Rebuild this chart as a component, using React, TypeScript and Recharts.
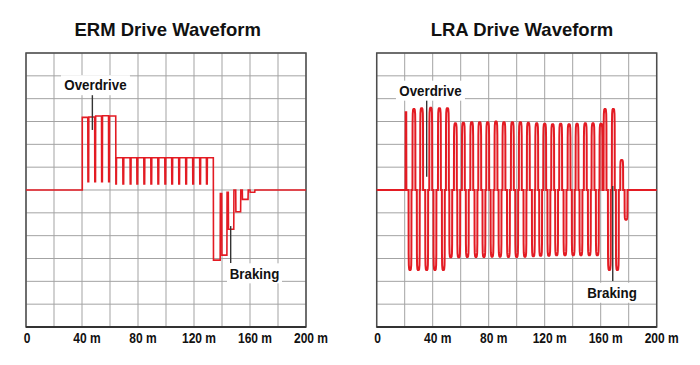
import React from 'react';
import {
  LineChart,
  Line,
  XAxis,
  YAxis,
  CartesianGrid,
  ReferenceArea,
  ReferenceLine,
  ReferenceDot,
} from 'recharts';

// ---------- shared axis data ----------
const gridTimes = [0, 20, 40, 60, 80, 100, 120, 140, 160, 180, 200];
const labelTimes = [0, 40, 80, 120, 160, 200];
const labelTexts = ['0', '40 m', '80 m', '120 m', '160 m', '200 m'];
const levelTicks = [-6, -5, -4, -3, -2, -1, 0, 1, 2, 3, 4, 5, 6];

// ---------- ERM waveform ----------
const ermOverdriveStart = 40.2;
const ermOverdriveLevels = [3.18, 3.2, 3.24, 3.25, 3.24];
const ermOverdriveDips = [44.5, 49.4, 54.3, 59.3];
const ermOverdriveDipFloor = 0.36;
const ermOverdriveEnd = 64.1;
const ermSustainLevel = 1.41;
const ermSustainDips = [69.5, 74.7, 79.5, 84.5, 89.5, 94.5, 99.5, 104.4, 109.4, 114.4, 119.4, 124.4, 129.2];
const ermSustainDipFloor = 0.27;
const ermBrakeStarts = [133.8, 139.8, 144.5, 149.8, 154.5, 160.0];
const ermBrakeEnds = [138.7, 143.5, 148.4, 153.3, 158.6, 163.4];
const ermBrakeLevels = [-3.07, -2.85, -1.72, -0.95, -0.41, -0.1];
const ermBrakeRebounds = [-0.15, -0.1, 0, 0, 0, 0];

// ---------- LRA waveform ----------
const lraOnsetTime = 20.9;
const lraOnsetPeak = 3.4;
const lraPositiveTimes = [26.6, 32.1, 38.6, 44.8, 50.5, 56.2, 61.9, 67.9, 73.6, 79.3, 85.2, 90.9, 96.9, 102.6, 108.3, 114.3, 120.0, 125.7, 131.4, 137.4, 143.1, 149.0, 154.5, 160.2, 163.1, 169.0, 175.0];
const lraPositivePeaks = [3.55, 3.58, 3.6, 3.58, 3.58, 2.92, 2.95, 2.97, 2.97, 2.97, 3.0, 2.97, 2.97, 2.97, 2.94, 2.92, 2.9, 2.88, 2.9, 2.88, 2.9, 2.92, 2.92, 2.9, 3.55, 3.55, 1.31];
const lraNegativeTimes = [23.8, 29.7, 35.7, 41.6, 47.6, 52.9, 58.6, 64.7, 70.9, 76.6, 82.4, 88.1, 94.1, 100.0, 105.9, 111.9, 117.1, 123.0, 128.5, 134.5, 140.4, 145.9, 151.9, 157.6, 166.2, 171.9, 178.1];
const lraNegativeTroughs = [-3.5, -3.5, -3.5, -3.5, -3.5, -2.95, -2.95, -2.93, -2.93, -2.93, -2.92, -2.92, -2.93, -2.93, -2.92, -2.9, -2.88, -2.88, -2.86, -2.86, -2.86, -2.86, -2.86, -2.86, -3.5, -3.5, -1.3];

// pulse outline (time offset in ms, fraction of peak) - drawing shape only
const pulseOutline: [number, number][] = [
  [-1.05, 0], [-0.98, 0.8], [-0.85, 0.94], [-0.6, 0.99], [-0.3, 1],
  [0.3, 1], [0.6, 0.99], [0.85, 0.94], [0.98, 0.8], [1.05, 0],
];

type Pt = { t: number; v: number };

function buildErm(): Pt[] {
  const p: Pt[] = [];
  p.push({ t: 0, v: 0 }, { t: ermOverdriveStart, v: 0 }, { t: ermOverdriveStart, v: ermOverdriveLevels[0] });
  ermOverdriveDips.forEach((d, i) => {
    p.push({ t: d - 0.35, v: ermOverdriveLevels[i] });
    p.push({ t: d - 0.25, v: ermOverdriveDipFloor });
    p.push({ t: d + 0.25, v: ermOverdriveDipFloor });
    p.push({ t: d + 0.35, v: ermOverdriveLevels[i + 1] });
  });
  const last = ermOverdriveLevels[ermOverdriveLevels.length - 1];
  p.push({ t: ermOverdriveEnd, v: last });
  p.push({ t: ermOverdriveEnd + 0.1, v: ermSustainDipFloor });
  p.push({ t: ermOverdriveEnd + 0.45, v: ermSustainDipFloor });
  p.push({ t: ermOverdriveEnd + 0.55, v: ermSustainLevel });
  ermSustainDips.forEach((d) => {
    p.push({ t: d - 0.35, v: ermSustainLevel });
    p.push({ t: d - 0.25, v: ermSustainDipFloor });
    p.push({ t: d + 0.25, v: ermSustainDipFloor });
    p.push({ t: d + 0.35, v: ermSustainLevel });
  });
  let prev = ermSustainLevel;
  ermBrakeStarts.forEach((s, i) => {
    p.push({ t: s, v: prev });
    p.push({ t: s + 0.12, v: ermBrakeLevels[i] });
    p.push({ t: ermBrakeEnds[i], v: ermBrakeLevels[i] });
    p.push({ t: ermBrakeEnds[i] + 0.12, v: ermBrakeRebounds[i] });
    prev = ermBrakeRebounds[i];
  });
  p.push({ t: 200, v: 0 });
  return p;
}

function buildLra(): Pt[] {
  const pulses: { t: number; a: number }[] = [];
  lraPositiveTimes.forEach((t, i) => pulses.push({ t, a: lraPositivePeaks[i] }));
  lraNegativeTimes.forEach((t, i) => pulses.push({ t, a: lraNegativeTroughs[i] }));
  pulses.sort((a, b) => a.t - b.t);
  const p: Pt[] = [];
  p.push({ t: 0, v: 0 });
  p.push({ t: lraOnsetTime - 0.3, v: 0 });
  p.push({ t: lraOnsetTime - 0.2, v: lraOnsetPeak });
  p.push({ t: lraOnsetTime + 0.2, v: lraOnsetPeak });
  p.push({ t: lraOnsetTime + 0.3, v: 0 });
  pulses.forEach(({ t, a }) => {
    pulseOutline.forEach(([dt, f]) => p.push({ t: t + dt, v: a * f }));
  });
  p.push({ t: 200, v: 0 });
  return p;
}

const ermPoints = buildErm();
const lraPoints = buildLra();

const labelFont = "'Liberation Sans', Arial, Helvetica, sans-serif";

const TimeTick = (props: any) => {
  const { x, y, payload } = props;
  const idx = labelTimes.indexOf(payload.value);
  if (idx < 0) return <g />;
  const dx = payload.value === 0 ? 1 : 5;
  return (
    <g transform={`translate(${x + dx},${y + 16}) scale(0.86,1)`}>
      <text x={0} y={0} textAnchor="middle" fontFamily={labelFont} fontWeight={700} fontSize={14} fill="#111">
        {labelTexts[idx]}
      </text>
    </g>
  );
};

const makeNote = (text: string) => (props: any) => {
  const { cx, cy } = props;
  const w = text.length * 7 + 6;
  return (
    <g>
      <rect x={cx - w / 2} y={cy - 10} width={w} height={20} fill="#fff" />
      <g transform={`translate(${cx},${cy + 5.3}) scale(0.89,1)`}>
        <text x={0} y={0} textAnchor="middle" fontFamily={labelFont} fontWeight={700} fontSize={15} fill="#111">
          {text}
        </text>
      </g>
    </g>
  );
};

type Note = { text: string; x: number; y: number; lineX: number; lineY1: number; lineY2: number };

const ermNotes: Note[] = [
  { text: 'Overdrive', x: 49.6, y: 4.59, lineX: 47.4, lineY1: 4.28, lineY2: 2.63 },
  { text: 'Braking', x: 163.2, y: -3.65, lineX: 146.2, lineY1: -1.58, lineY2: -3.2 },
];
const lraNotes: Note[] = [
  { text: 'Overdrive', x: 38.4, y: 4.35, lineX: 35.7, lineY1: 4.07, lineY2: 0.58 },
  { text: 'Braking', x: 168.1, y: -4.5, lineX: 168.6, lineY1: 0.18, lineY2: -3.99 },
];

function Panel({ data, notes, marginLeft, strokeWidth }: { data: Pt[]; notes: Note[]; marginLeft: number; strokeWidth: number }) {
  return (
    <LineChart
      width={350}
      height={365}
      data={data}
      margin={{ top: 53, right: 70 - marginLeft, bottom: 8, left: marginLeft }}
    >
      <CartesianGrid
        stroke="#a3a3a3"
        strokeWidth={1}
        horizontalValues={levelTicks}
        verticalValues={gridTimes}
      />
      <XAxis
        dataKey="t"
        type="number"
        domain={[0, 200]}
        ticks={gridTimes}
        interval={0}
        tickLine={false}
        tickSize={0}
        tickMargin={0}
        height={30}
        axisLine={{ stroke: '#333', strokeWidth: 2 }}
        tick={<TimeTick />}
      />
      <YAxis type="number" domain={[-6, 6]} ticks={levelTicks} interval={0} hide />
      <ReferenceArea x1={0} x2={200} y1={-6} y2={6} fill="none" fillOpacity={0} stroke="#4d4d4d" strokeWidth={1.5} />
      <Line
        dataKey="v"
        type="linear"
        stroke="#e31b23"
        strokeWidth={strokeWidth}
        dot={false}
        isAnimationActive={false}
      />
      {notes.map((n) => (
        <ReferenceLine
          key={n.text + '-line'}
          segment={[{ x: n.lineX, y: n.lineY1 }, { x: n.lineX, y: n.lineY2 }]}
          stroke="#333"
          strokeWidth={1.4}
        />
      ))}
      {notes.map((n) => (
        <ReferenceDot key={n.text + '-label'} x={n.x} y={n.y} r={0} shape={makeNote(n.text)} />
      ))}
    </LineChart>
  );
}

export default function App() {
  return (
    <div style={{ position: 'absolute', left: 0, top: 0, width: 700, height: 365, background: '#fff' }}>
      <div style={{ position: 'absolute', left: 0, top: 0 }}>
        <Panel data={ermPoints} notes={ermNotes} marginLeft={26} strokeWidth={1.6} />
      </div>
      <div style={{ position: 'absolute', left: 350, top: 0 }}>
        <Panel data={lraPoints} notes={lraNotes} marginLeft={26.7} strokeWidth={2} />
      </div>
      <svg width={700} height={60} style={{ position: 'absolute', left: 0, top: 0, pointerEvents: 'none' }}>
        <text x={167.7} y={36} textAnchor="middle" fontFamily={labelFont} fontWeight={700} fontSize={18.5} fill="#111">
          ERM Drive Waveform
        </text>
        <text x={522} y={36} textAnchor="middle" fontFamily={labelFont} fontWeight={700} fontSize={18.5} fill="#111">
          LRA Drive Waveform
        </text>
      </svg>
    </div>
  );
}
